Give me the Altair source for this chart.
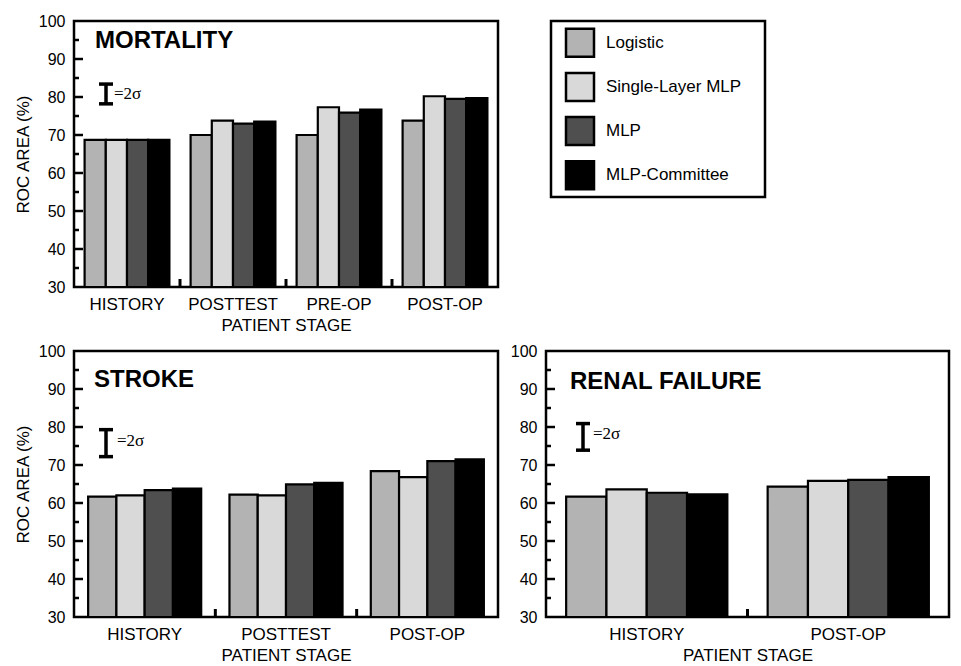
import altair as alt
import pandas as pd

# ---------------- data ----------------
methods = ["Logistic", "Single-Layer MLP", "MLP", "MLP-Committee"]
method_colors = ["#b3b3b3", "#d9d9d9", "#4f4f4f", "#000000"]

mort_stages = ["HISTORY", "POSTTEST", "PRE-OP", "POST-OP"]
mort_logistic = [68.7, 70.0, 70.0, 73.8]
mort_single = [68.7, 73.8, 77.3, 80.2]
mort_mlp = [68.7, 73.0, 75.9, 79.5]
mort_committee = [68.7, 73.5, 76.7, 79.7]

stroke_stages = ["HISTORY", "POSTTEST", "POST-OP"]
stroke_logistic = [61.7, 62.2, 68.4]
stroke_single = [62.0, 62.0, 66.8]
stroke_mlp = [63.4, 64.9, 71.0]
stroke_committee = [63.8, 65.3, 71.5]

renal_stages = ["HISTORY", "POST-OP"]
renal_logistic = [61.7, 64.3]
renal_single = [63.6, 65.8]
renal_mlp = [62.7, 66.1]
renal_committee = [62.3, 66.8]

# 2-sigma bars (low, high) in ROC area %
mort_sigma = [78.2, 83.4]
stroke_sigma = [72.2, 79.3]
renal_sigma = [73.9, 80.9]

y_labels = [30, 40, 50, 60, 70, 80, 90, 100]
major_ticks = [40, 50, 60, 70, 80, 90]
minor_ticks = [35, 45, 55, 65, 75, 85, 95]

FONT = "Liberation Sans"
SERIF = "Liberation Serif"


def long_df(stages, series):
    rows = []
    for m, vals in zip(methods, series):
        for s, v in zip(stages, vals):
            rows.append({"stage": s, "method": m, "value": v})
    return pd.DataFrame(rows)


def panel(stages, series, title, sigma, width, height, ytitle, title_pos,
          sigma_pos):
    n = len(stages)
    step = width / n
    x_axis = alt.Axis(labelAngle=0, ticks=False, domain=False,
                      labelFontSize=17, labelPadding=9, title="PATIENT STAGE",
                      titleFontSize=17, titleFontWeight="normal",
                      titlePadding=5)
    y_axis = alt.Axis(values=y_labels, ticks=False, domain=False, grid=False,
                      labelFontSize=16, labelPadding=9,
                      title=ytitle if ytitle else None,
                      titleFontSize=17, titleFontWeight="normal",
                      titlePadding=6)
    x_scale = alt.Scale(paddingInner=0.2, paddingOuter=0.1)
    y_scale = alt.Scale(domain=[30, 100], nice=False, zero=False)

    def X():
        return alt.X("stage:N", sort=stages, scale=x_scale, axis=x_axis)

    def Y(field):
        return alt.Y(field, scale=y_scale, axis=y_axis)

    bars = alt.Chart(long_df(stages, series)).mark_bar(
        stroke="black", strokeWidth=2.2
    ).encode(
        x=X(),
        xOffset=alt.XOffset("method:N", sort=methods,
                            scale=alt.Scale(paddingInner=0, paddingOuter=0)),
        y=Y("value:Q"),
        y2=alt.datum(30),
        color=alt.Color("method:N", sort=methods,
                        scale=alt.Scale(domain=methods, range=method_colors),
                        legend=None),
    )

    major = alt.Chart(pd.DataFrame({"v": major_ticks})).mark_rule(
        color="black", strokeWidth=2.5
    ).encode(y=Y("v:Q"), x=alt.value(0), x2=alt.value(9))
    minor = alt.Chart(pd.DataFrame({"v": minor_ticks})).mark_rule(
        color="black", strokeWidth=2.5
    ).encode(y=Y("v:Q"), x=alt.value(0), x2=alt.value(5))

    bticks = alt.Chart(pd.DataFrame({"stage": stages[1:]})).mark_rule(
        color="black", strokeWidth=3, xOffset=-0.5 * step
    ).encode(x=X(), y=alt.value(height), y2=alt.value(height - 8))

    ttl = alt.Chart(pd.DataFrame({"t": [title]})).mark_text(
        align="left", baseline="middle", font=FONT, fontSize=24,
        fontWeight="bold", color="black"
    ).encode(text="t:N", x=alt.value(title_pos[0]), y=alt.value(title_pos[1]))

    sdf = pd.DataFrame({"lo": [sigma[0]], "hi": [sigma[1]], "t": ["=2σ"]})
    cx = sigma_pos[0]
    s_vert = alt.Chart(sdf).mark_rule(color="black", strokeWidth=3.5).encode(
        x=alt.value(cx), y=Y("lo:Q"), y2="hi:Q")
    s_lo = alt.Chart(sdf).mark_rule(color="black", strokeWidth=3.5).encode(
        x=alt.value(cx - 7), x2=alt.value(cx + 7), y=Y("lo:Q"))
    s_hi = alt.Chart(sdf).mark_rule(color="black", strokeWidth=3.5).encode(
        x=alt.value(cx - 7), x2=alt.value(cx + 7), y=Y("hi:Q"))
    s_txt = alt.Chart(sdf).mark_text(
        align="left", baseline="middle", font=SERIF, fontSize=17,
        color="black"
    ).encode(text="t:N", x=alt.value(sigma_pos[1]), y=alt.value(sigma_pos[2]))

    return alt.layer(bars, major, minor, bticks, ttl, s_vert, s_lo, s_hi,
                     s_txt).properties(width=width, height=height)


mort = panel(mort_stages,
             [mort_logistic, mort_single, mort_mlp, mort_committee],
             "MORTALITY", mort_sigma, 424, 266, "ROC AREA (%)",
             (21, 20), (32, 40, 73))
stroke = panel(stroke_stages,
               [stroke_logistic, stroke_single, stroke_mlp, stroke_committee],
               "STROKE", stroke_sigma, 424, 266, "ROC AREA (%)",
               (20, 29), (32, 43, 90))
renal = panel(renal_stages,
              [renal_logistic, renal_single, renal_mlp, renal_committee],
              "RENAL FAILURE", renal_sigma, 403, 266, None,
              (24, 31), (37, 47, 83))

# legend panel
leg_df = pd.DataFrame({"method": methods})
leg_y = alt.Y("method:N", sort=methods,
              scale=alt.Scale(type="point", padding=0.49), axis=None)
leg_sq = alt.Chart(leg_df).mark_square(
    size=784, stroke="black", strokeWidth=2.5, opacity=1
).encode(
    y=leg_y, x=alt.value(29),
    color=alt.Color("method:N", sort=methods,
                    scale=alt.Scale(domain=methods, range=method_colors),
                    legend=None),
)
leg_tx = alt.Chart(leg_df).mark_text(
    align="left", baseline="middle", font=FONT, fontSize=17, color="black"
).encode(y=leg_y, x=alt.value(55), text="method:N")
legend = alt.layer(leg_sq, leg_tx).properties(width=214, height=176)

indep = dict(x="independent", xOffset="independent", y="independent")
row1 = alt.hconcat(mort, legend, spacing=53, bounds="flush").resolve_scale(**indep)
row2 = alt.hconcat(stroke, renal, spacing=48, bounds="flush").resolve_scale(**indep)

chart = alt.vconcat(row1, row2, spacing=6).resolve_scale(**indep).properties(
    padding={"left": 5, "top": 3, "right": 0, "bottom": 0},
    background="white",
).configure_view(
    stroke="black", strokeWidth=2.5
).configure_axis(
    labelFont=FONT, titleFont=FONT, labelColor="black", titleColor="black"
)

chart.save("out.html", embed_options={"renderer": "svg", "actions": False})
